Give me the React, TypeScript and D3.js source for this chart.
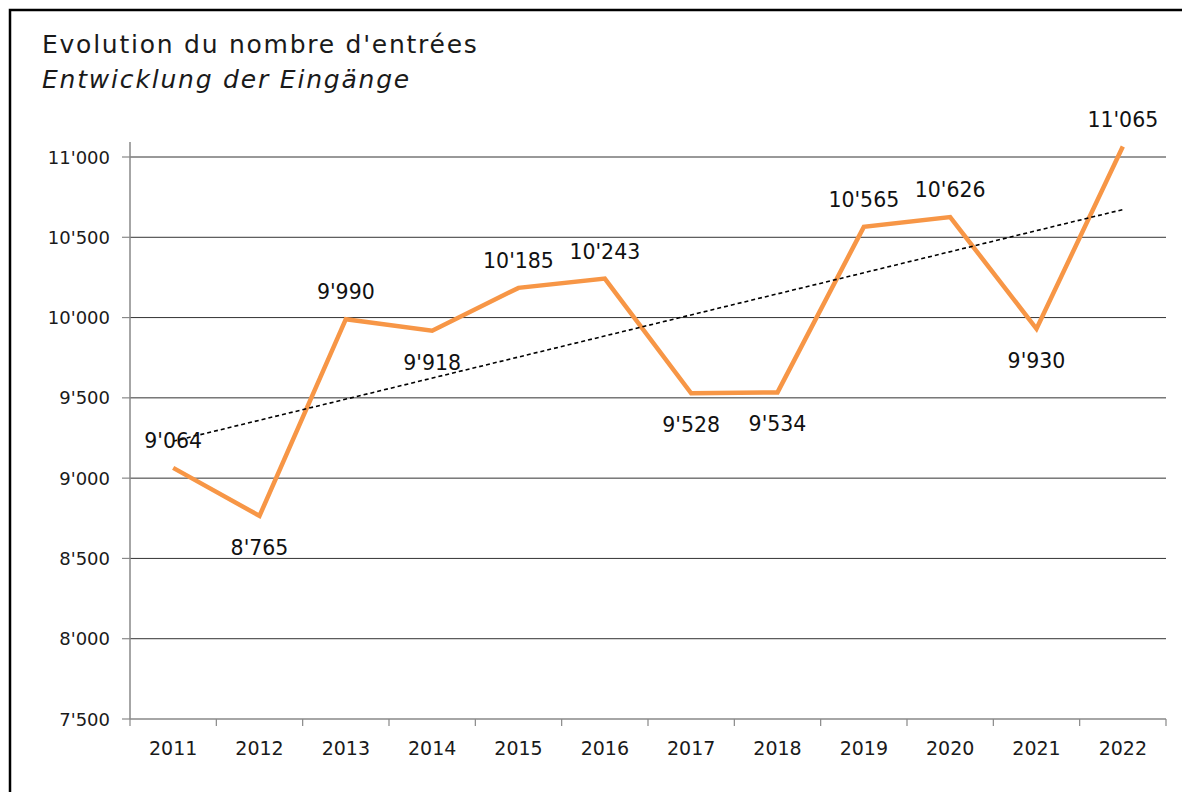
import * as d3 from "d3";

const years = ["2011", "2012", "2013", "2014", "2015", "2016", "2017", "2018", "2019", "2020", "2021", "2022"];
const entries = [9064, 8765, 9990, 9918, 10185, 10243, 9528, 9534, 10565, 10626, 9930, 11065];
const labelSide = ["above", "below", "above", "below", "above", "above", "below", "below", "above", "above", "below", "above"];
const yTicks = [7500, 8000, 8500, 9000, 9500, 10000, 10500, 11000];
const titleFr = "Evolution du nombre d'entrées";
const titleDe = "Entwicklung der Eingänge";

const W = 1182, H = 792;
const margin = { top: 157, right: 16, bottom: 73, left: 130 };
const font = "'DejaVu Sans', sans-serif";

// 9064 -> 9'064
const fmt = (v: number) => d3.format(",")(v).replace(/,/g, "'");

export default function App() {
  const x = d3.scaleBand().domain(years).range([margin.left, W - margin.right]).padding(0);
  const y = d3.scaleLinear().domain([7500, 11000]).range([H - margin.bottom, margin.top]);
  const cx = (i: number) => (x(years[i]) as number) + x.bandwidth() / 2;

  const line = d3.line<number>().x((_, i) => cx(i)).y((d) => y(d));

  // linear trend (least squares)
  const xs = entries.map((_, i) => i + 1);
  const mx = d3.mean(xs) as number, my = d3.mean(entries) as number;
  const slope = d3.sum(xs, (v, i) => (v - mx) * (entries[i] - my)) / d3.sum(xs, (v) => (v - mx) ** 2);
  const trend = (i: number) => my + slope * (i + 1 - mx);

  const [x0, x1] = x.range();
  const y0 = y.range()[0];

  return (
    <>
      <style>{`body{margin:0;overflow:hidden}`}</style>
      <svg width={W} height={H} style={{ display: "block", background: "#fff" }} fontFamily={font}>
        <rect x={10} y={10} width={W + 20} height={H + 20} fill="none" stroke="#000" strokeWidth={2.5} />

        <text x={42} y={53} fontSize={25} letterSpacing={1.75} fill="#1a1a1a">{titleFr}</text>
        <text x={42} y={88} fontSize={25} letterSpacing={1.8} fontStyle="italic" fill="#1a1a1a">{titleDe}</text>

        {yTicks.slice(1).map((t) => (
          <line key={"g" + t} x1={x0} x2={x1} y1={y(t)} y2={y(t)} stroke="#333" strokeWidth={1} />
        ))}
        {yTicks.map((t) => (
          <g key={"yt" + t}>
            <line x1={x0 - 8} x2={x0} y1={y(t)} y2={y(t)} stroke="#888" strokeWidth={1.2} />
            <text x={110} y={y(t) + 6.5} fontSize={18} textAnchor="end" fill="#1a1a1a">{fmt(t)}</text>
          </g>
        ))}
        <line x1={x0} x2={x0} y1={y(11000) - 15} y2={y0} stroke="#888" strokeWidth={1.5} />
        <line x1={x0} x2={x1} y1={y0} y2={y0} stroke="#888" strokeWidth={1.5} />
        {years.map((yr) => (
          <line key={"xt" + yr} x1={x(yr)} x2={x(yr)} y1={y0} y2={y0 + 7} stroke="#888" strokeWidth={1.2} />
        ))}
        <line x1={x1} x2={x1} y1={y0} y2={y0 + 7} stroke="#888" strokeWidth={1.2} />
        {years.map((yr, i) => (
          <text key={"xl" + yr} x={cx(i)} y={y0 + 36} fontSize={19} textAnchor="middle" fill="#1a1a1a">{yr}</text>
        ))}

        <path d={line(entries) || ""} fill="none" stroke="#F79646" strokeWidth={4.5} strokeLinejoin="miter" />
        <line x1={cx(0)} x2={cx(years.length - 1)} y1={y(trend(0))} y2={y(trend(years.length - 1))}
          stroke="#000" strokeWidth={1.6} strokeDasharray="4,3" />

        {entries.map((v, i) => (
          <text key={"dl" + i} x={cx(i)} y={y(v) + (labelSide[i] === "above" ? -20 : 39)}
            fontSize={20.5} textAnchor="middle" fill="#111">{fmt(v)}</text>
        ))}
      </svg>
    </>
  );
}
